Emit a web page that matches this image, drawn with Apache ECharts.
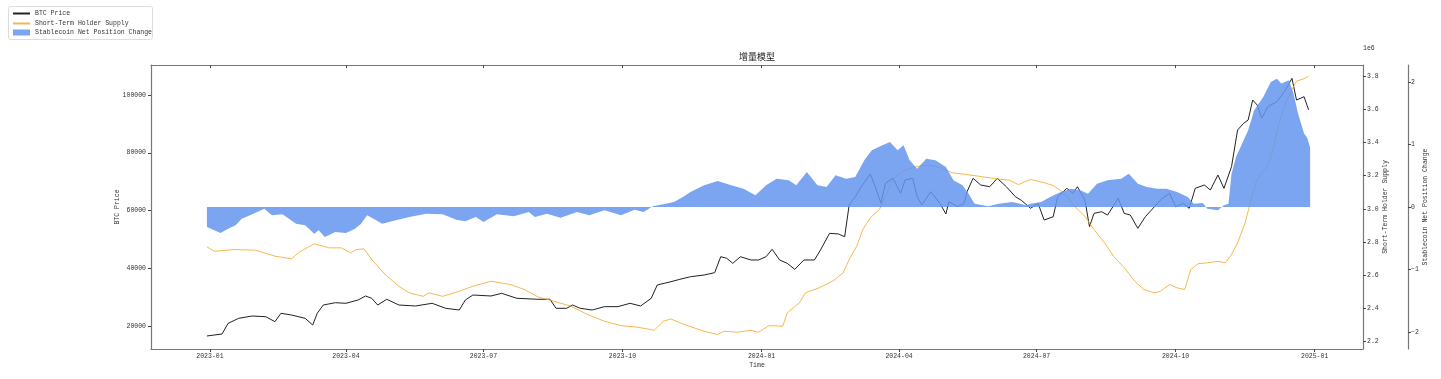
<!DOCTYPE html>
<html><head><meta charset="utf-8">
<script src="https://cdn.jsdelivr.net/npm/echarts@6/dist/echarts.min.js"></script>
<style>html,body{margin:0;padding:0;background:#fff}#c{width:1441px;height:379px}</style>
</head><body><div id="c"></div><script>
const titleText = '增量模型';
const xTickLabels = ['2023-01','2023-04','2023-07','2023-10','2024-01','2024-04','2024-07','2024-10','2025-01'];
const priceTicks = [20000, 40000, 60000, 80000, 100000];
const supplyTicks = [2.2, 2.4, 2.6, 2.8, 3.0, 3.2, 3.4, 3.6, 3.8];
const stableTicks = [-2, -1, 0, 1, 2];

const btcDates = ['2022-12-30','2023-01-09','2023-01-13','2023-01-20','2023-01-29','2023-02-07','2023-02-13','2023-02-17','2023-02-24','2023-03-05','2023-03-10','2023-03-13','2023-03-17','2023-03-25','2023-04-01','2023-04-09','2023-04-14','2023-04-18','2023-04-22','2023-04-28','2023-05-06','2023-05-17','2023-05-28','2023-06-06','2023-06-15','2023-06-19','2023-06-24','2023-07-06','2023-07-13','2023-07-23','2023-08-06','2023-08-14','2023-08-18','2023-08-25','2023-08-29','2023-09-03','2023-09-11','2023-09-19','2023-09-28','2023-10-06','2023-10-13','2023-10-20','2023-10-24','2023-11-02','2023-11-08','2023-11-15','2023-11-24','2023-12-01','2023-12-05','2023-12-09','2023-12-13','2023-12-18','2023-12-25','2023-12-30','2024-01-04','2024-01-08','2024-01-13','2024-01-18','2024-01-23','2024-01-29','2024-02-05','2024-02-09','2024-02-15','2024-02-21','2024-02-25','2024-02-28','2024-03-03','2024-03-07','2024-03-13','2024-03-17','2024-03-20','2024-03-23','2024-03-28','2024-04-02','2024-04-05','2024-04-10','2024-04-13','2024-04-16','2024-04-22','2024-04-28','2024-05-02','2024-05-04','2024-05-10','2024-05-14','2024-05-16','2024-05-20','2024-05-25','2024-05-31','2024-06-05','2024-06-11','2024-06-17','2024-06-21','2024-06-27','2024-07-02','2024-07-06','2024-07-12','2024-07-15','2024-07-21','2024-07-25','2024-07-28','2024-08-02','2024-08-05','2024-08-08','2024-08-13','2024-08-17','2024-08-24','2024-08-28','2024-09-01','2024-09-06','2024-09-11','2024-09-17','2024-09-21','2024-09-27','2024-10-01','2024-10-06','2024-10-10','2024-10-14','2024-10-20','2024-10-24','2024-10-29','2024-11-02','2024-11-07','2024-11-11','2024-11-15','2024-11-18','2024-11-21','2024-11-24','2024-11-27','2024-12-01','2024-12-07','2024-12-12','2024-12-17','2024-12-20','2024-12-25','2024-12-28'];
const btcPrice = [16540,17230,20900,22660,23460,23220,21500,24400,23800,22660,20350,24400,27270,28070,27860,29000,30390,29600,27270,29250,27270,26930,27860,26130,25540,29000,30730,30390,31320,29600,29250,29250,26130,26130,27270,26130,25540,26700,26700,27860,26930,29600,34200,35340,36170,37070,37660,38460,44000,43440,41700,44000,42860,42860,44000,46560,42860,41700,39620,42860,42860,46320,52100,51860,50900,61900,64780,68240,72630,67100,62480,69420,71150,65960,70560,71150,64780,61900,66530,62480,58800,63050,61320,62480,66530,71150,68830,68240,71150,68240,64780,63500,60760,62480,56700,57850,64780,67680,65960,68240,63630,54390,59000,59580,58440,64200,59000,58440,53830,57850,61320,63630,65960,61320,62480,60760,67680,68830,67100,72290,67680,75180,87870,90200,91340,98260,96530,91920,95950,97680,101100,105770,98260,99400,94850];

const supplyDates = ['2022-12-30','2023-01-04','2023-01-18','2023-01-31','2023-02-13','2023-02-24','2023-03-01','2023-03-11','2023-03-21','2023-03-29','2023-04-04','2023-04-08','2023-04-13','2023-04-18','2023-04-27','2023-05-06','2023-05-13','2023-05-22','2023-05-26','2023-06-04','2023-06-15','2023-06-24','2023-07-06','2023-07-19','2023-07-28','2023-08-06','2023-08-17','2023-08-28','2023-09-08','2023-09-19','2023-09-30','2023-10-11','2023-10-22','2023-10-28','2023-11-02','2023-11-11','2023-11-24','2023-12-03','2023-12-07','2023-12-16','2023-12-25','2023-12-30','2024-01-06','2024-01-15','2024-01-18','2024-01-26','2024-01-30','2024-02-08','2024-02-17','2024-02-24','2024-02-28','2024-03-04','2024-03-08','2024-03-13','2024-03-19','2024-03-23','2024-03-28','2024-04-03','2024-04-10','2024-04-16','2024-04-23','2024-04-29','2024-05-06','2024-05-15','2024-05-24','2024-06-04','2024-06-13','2024-06-19','2024-06-24','2024-06-27','2024-07-06','2024-07-12','2024-07-19','2024-07-26','2024-08-02','2024-08-08','2024-08-15','2024-08-21','2024-08-28','2024-09-04','2024-09-10','2024-09-17','2024-09-21','2024-09-27','2024-10-02','2024-10-07','2024-10-11','2024-10-16','2024-10-22','2024-10-29','2024-11-03','2024-11-07','2024-11-11','2024-11-16','2024-11-20','2024-11-23','2024-11-27','2024-12-01','2024-12-04','2024-12-08','2024-12-12','2024-12-17','2024-12-20','2024-12-25','2024-12-28'];
const supplyMillions = [2.771,2.745,2.755,2.751,2.715,2.699,2.739,2.789,2.765,2.765,2.735,2.755,2.759,2.695,2.604,2.534,2.494,2.473,2.494,2.473,2.504,2.534,2.564,2.544,2.514,2.470,2.443,2.413,2.363,2.323,2.297,2.287,2.269,2.323,2.337,2.303,2.263,2.243,2.263,2.257,2.269,2.257,2.297,2.293,2.373,2.434,2.494,2.524,2.564,2.614,2.695,2.775,2.875,2.946,2.996,3.076,3.177,3.226,3.247,3.261,3.261,3.247,3.217,3.207,3.196,3.181,3.172,3.146,3.166,3.177,3.157,3.140,3.096,3.016,2.955,2.875,2.795,2.714,2.645,2.564,2.514,2.494,2.504,2.544,2.524,2.514,2.634,2.670,2.675,2.684,2.675,2.725,2.795,2.916,3.056,3.157,3.217,3.257,3.337,3.498,3.618,3.719,3.769,3.783,3.799];

const stableDates = ['2022-12-30','2023-01-08','2023-01-13','2023-01-18','2023-01-22','2023-01-29','2023-02-06','2023-02-11','2023-02-18','2023-02-27','2023-03-05','2023-03-11','2023-03-14','2023-03-18','2023-03-25','2023-04-01','2023-04-07','2023-04-11','2023-04-15','2023-04-21','2023-04-25','2023-05-04','2023-05-13','2023-05-24','2023-06-04','2023-06-13','2023-06-19','2023-06-26','2023-07-01','2023-07-10','2023-07-21','2023-07-31','2023-08-04','2023-08-12','2023-08-21','2023-09-01','2023-09-09','2023-09-19','2023-09-30','2023-10-09','2023-10-15','2023-10-21','2023-10-28','2023-11-04','2023-11-10','2023-11-15','2023-11-24','2023-12-03','2023-12-12','2023-12-20','2023-12-28','2024-01-04','2024-01-11','2024-01-19','2024-01-24','2024-01-31','2024-02-07','2024-02-13','2024-02-19','2024-02-26','2024-03-03','2024-03-09','2024-03-14','2024-03-21','2024-03-26','2024-03-31','2024-04-04','2024-04-08','2024-04-13','2024-04-19','2024-04-25','2024-05-02','2024-05-07','2024-05-13','2024-05-17','2024-05-21','2024-05-30','2024-06-06','2024-06-15','2024-06-24','2024-06-27','2024-07-04','2024-07-10','2024-07-17','2024-07-24','2024-07-30','2024-08-04','2024-08-10','2024-08-17','2024-08-26','2024-08-31','2024-09-06','2024-09-12','2024-09-19','2024-09-25','2024-10-02','2024-10-09','2024-10-13','2024-10-19','2024-10-22','2024-10-29','2024-11-02','2024-11-05','2024-11-07','2024-11-10','2024-11-13','2024-11-18','2024-11-22','2024-11-28','2024-12-03','2024-12-07','2024-12-10','2024-12-15','2024-12-18','2024-12-21','2024-12-25','2024-12-27','2024-12-29'];
const stableChange = [-0.32,-0.416,-0.347,-0.293,-0.187,-0.117,-0.027,-0.133,-0.117,-0.267,-0.293,-0.427,-0.373,-0.48,-0.40,-0.416,-0.347,-0.267,-0.133,-0.213,-0.267,-0.213,-0.16,-0.107,-0.117,-0.203,-0.229,-0.16,-0.24,-0.117,-0.149,-0.08,-0.16,-0.107,-0.17,-0.08,-0.133,-0.053,-0.133,-0.043,-0.08,0.011,0.043,0.08,0.16,0.24,0.347,0.416,0.347,0.293,0.187,0.347,0.453,0.427,0.347,0.56,0.347,0.32,0.507,0.453,0.48,0.747,0.907,0.987,1.04,0.907,0.987,0.747,0.613,0.773,0.747,0.64,0.427,0.347,0.213,0.053,0.011,0.053,0.08,0.027,0.053,0.08,0.16,0.24,0.293,0.267,0.213,0.373,0.427,0.453,0.533,0.373,0.32,0.293,0.293,0.24,0.16,0.053,0.064,-0.027,-0.053,0.027,0.053,0.533,0.80,0.96,1.227,1.547,1.76,2.0,2.05,1.973,2.027,1.813,1.493,1.173,1.11,0.95];

const ts = s => { const p = s.split('-'); return new Date(+p[0], +p[1] - 1, p[2] ? +p[2] : 1).getTime(); };
const pair = (ds, vs) => ds.map((d, i) => [ts(d), vs[i]]);
const pad = n => (n < 10 ? '0' : '') + n;
const xTickValues = xTickLabels.map(ts);
const xFmt = v => { const d = new Date(v + 43200000); return d.getFullYear() + '-' + pad(d.getMonth() + 1); };

const FONT = 'Liberation Mono';
const TXT = '#333';
const SPINE = '#777';
const xMin = ts('2022-11-23');
const xMax = ts('2025-02-02');

const chart = echarts.init(document.getElementById('c'), null, {renderer: 'canvas'});
const axisLab = {color: TXT, fontSize: 6.5, fontFamily: FONT};
const legendText = {fontSize: 6.5, fontFamily: FONT, color: TXT};
chart.setOption({
  animation: false,
  backgroundColor: '#fff',
  title: {text: titleText, left: 757, top: 52, textAlign: 'center', padding: 0,
    textStyle: {fontSize: 9, fontWeight: 'normal', color: '#222', fontFamily: 'Noto Sans CJK SC'}},
  legend: [
    {data: ['BTC Price'], left: 13, top: 10, padding: 0, itemWidth: 17, itemHeight: 2, icon: 'rect', textStyle: legendText},
    {data: ['Short-Term Holder Supply'], left: 13, top: 20, padding: 0, itemWidth: 17, itemHeight: 2, icon: 'rect', textStyle: legendText},
    {data: ['Stablecoin Net Position Change'], left: 13, top: 29, padding: 0, itemWidth: 17, itemHeight: 6, icon: 'rect', textStyle: legendText}
  ],
  graphic: [
    {type: 'rect', shape: {x: 8.5, y: 6.5, width: 144, height: 33, r: 2}, style: {fill: 'none', stroke: '#ddd', lineWidth: 1}, z: -1},
    {type: 'text', x: 1363, y: 45, style: {text: '1e6', fontSize: 6.5, fontFamily: FONT, fill: TXT}}
  ],
  grid: {left: 151, top: 65, width: 1212, height: 284, containLabel: false},
  xAxis: [
    {type: 'value', min: xMin, max: xMax, position: 'bottom', scale: true,
      name: 'Time', nameLocation: 'middle', nameGap: 13, nameMoveOverlap: false, nameTextStyle: axisLab,
      axisLine: {show: true, onZero: false, lineStyle: {color: SPINE, width: 1.2}},
      axisTick: {show: true, length: 3, lineStyle: {color: '#444'}, customValues: xTickValues},
      axisLabel: {show: true, customValues: xTickValues, formatter: xFmt, margin: 4, ...axisLab},
      splitLine: {show: false}},
    {type: 'value', min: xMin, max: xMax, position: 'top', scale: true,
      axisLine: {show: true, onZero: false, lineStyle: {color: SPINE, width: 1.2}},
      axisTick: {show: true, inside: true, length: 3, lineStyle: {color: '#444'}, customValues: xTickValues},
      axisLabel: {show: false}, splitLine: {show: false}}
  ],
  yAxis: [
    {type: 'value', min: 12035, max: 110390, position: 'left',
      name: 'BTC Price', nameLocation: 'middle', nameRotate: 90, nameGap: 30, nameMoveOverlap: false, nameTextStyle: axisLab,
      axisLine: {show: true, onZero: false, lineStyle: {color: SPINE, width: 1.2}},
      axisTick: {show: true, length: 3, lineStyle: {color: '#444'}, customValues: priceTicks},
      axisLabel: {customValues: priceTicks, margin: 5, formatter: v => String(v), ...axisLab},
      splitLine: {show: false}},
    {type: 'value', min: 2.156, max: 3.866, position: 'right',
      name: 'Short-Term Holder Supply', nameLocation: 'middle', nameRotate: 90, nameGap: 18.5, nameMoveOverlap: false, nameTextStyle: axisLab,
      axisLine: {show: true, onZero: false, lineStyle: {color: SPINE, width: 1.2}},
      axisTick: {show: true, length: 3, lineStyle: {color: '#444'}, customValues: supplyTicks},
      axisLabel: {customValues: supplyTicks, margin: 4, formatter: v => v.toFixed(1), ...axisLab},
      splitLine: {show: false}},
    {type: 'value', min: -2.27, max: 2.27, position: 'right', offset: 45,
      name: 'Stablecoin Net Position Change', nameLocation: 'middle', nameRotate: 90, nameGap: 13.5, nameMoveOverlap: false, nameTextStyle: axisLab,
      axisLine: {show: true, onZero: false, lineStyle: {color: SPINE, width: 1.2}},
      axisTick: {show: true, length: 3, lineStyle: {color: '#444'}, customValues: stableTicks},
      axisLabel: {customValues: stableTicks, margin: 3, formatter: v => String(Math.round(v)).replace('-', '\u2212'), ...axisLab},
      splitLine: {show: false}}
  ],
  series: [
    {name: 'BTC Price', type: 'line', xAxisIndex: 0, yAxisIndex: 0, data: pair(btcDates, btcPrice),
      showSymbol: false, symbol: 'none', color: '#222', lineStyle: {color: '#222', width: 1}, z: 2},
    {name: 'Short-Term Holder Supply', type: 'line', xAxisIndex: 0, yAxisIndex: 1, data: pair(supplyDates, supplyMillions),
      showSymbol: false, symbol: 'none', color: '#f7b74a', lineStyle: {color: '#f5a623', width: 1, opacity: 0.8}, z: 3},
    {name: 'Stablecoin Net Position Change', type: 'line', xAxisIndex: 0, yAxisIndex: 2, data: pair(stableDates, stableChange),
      showSymbol: false, symbol: 'none', color: '#7ba5ef', lineStyle: {width: 0},
      areaStyle: {color: '#6495ED', opacity: 0.85, origin: 0}, z: 4}
  ]
});
</script></body></html>
